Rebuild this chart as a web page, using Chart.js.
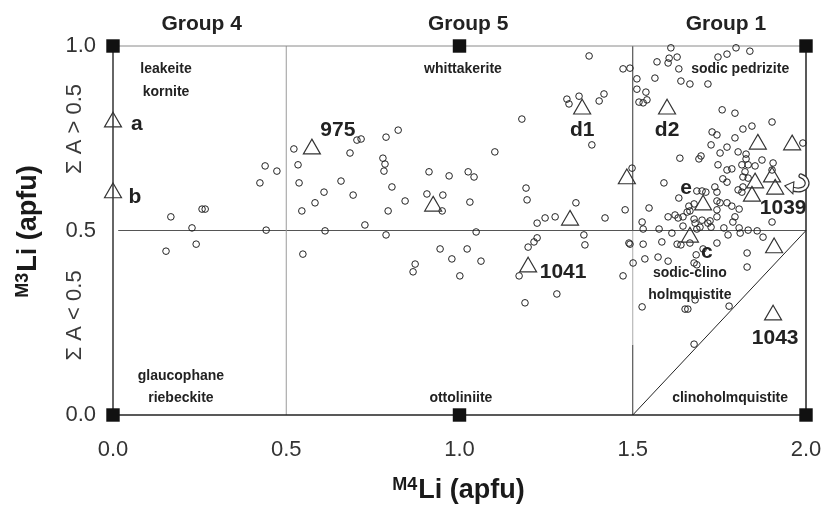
<!DOCTYPE html>
<html>
<head>
<meta charset="utf-8">
<script src="https://cdn.jsdelivr.net/npm/chart.js@4.4.1/dist/chart.umd.min.js"></script>
<style>
  html, body { margin: 0; padding: 0; background: #fff; }
  #wrap { width: 825px; height: 514px; }
</style>
</head>
<body>
<div id="wrap"><canvas id="liPlot" width="825" height="514"></canvas></div>
<script>
// Axis ticks
const xTicks = [0, 0.5, 1.0, 1.5, 2.0];
const yTicks = [0, 0.5, 1.0];

// Analyses (circles), split by field
const g4M4 = [0.167, 0.228, 0.257, 0.266, 0.153, 0.240, 0.439, 0.473, 0.424, 0.442];
const g4M3 = [0.537, 0.507, 0.558, 0.558, 0.444, 0.463, 0.675, 0.661, 0.629, 0.501];

const g5M4 = [0.522, 0.534, 0.537, 0.545, 0.583, 0.609, 0.612, 0.548, 0.658, 0.684, 0.704, 0.716, 0.693, 0.727,
  0.788, 0.823, 0.779, 0.785, 0.782, 0.805, 0.843, 0.794, 0.788, 0.912, 0.970, 1.025, 1.042, 1.102, 1.180, 1.310,
  1.316, 1.345, 1.403, 1.417, 1.374, 1.472, 1.492, 1.382, 0.906, 0.952, 0.950, 1.030, 1.048, 0.944, 1.022, 0.978,
  1.062, 0.872, 0.866, 1.001, 1.192, 1.195, 1.224, 1.247, 1.276, 1.336, 1.359, 1.362, 1.420, 1.478, 1.489, 1.224,
  1.215, 1.198, 1.172, 1.281, 1.189, 1.472, 1.498, 1.501, 1.492];
const g5M3 = [0.721, 0.678, 0.629, 0.553, 0.575, 0.604, 0.499, 0.436, 0.634, 0.710, 0.745, 0.748, 0.596, 0.515,
  0.753, 0.772, 0.696, 0.680, 0.661, 0.618, 0.580, 0.553, 0.488, 0.659, 0.648, 0.659, 0.645, 0.713, 0.802, 0.856,
  0.843, 0.864, 0.851, 0.870, 0.973, 0.938, 0.940, 0.732, 0.599, 0.596, 0.553, 0.577, 0.496, 0.450, 0.450, 0.423,
  0.417, 0.409, 0.388, 0.377, 0.615, 0.583, 0.520, 0.534, 0.537, 0.575, 0.488, 0.461, 0.534, 0.556, 0.466, 0.480,
  0.469, 0.455, 0.377, 0.328, 0.304, 0.377, 0.669, 0.412, 0.463];

const g1M4 = [1.512, 1.512, 1.518, 1.610, 1.570, 1.605, 1.628, 1.602, 1.633, 1.746, 1.772, 1.798, 1.838, 1.564,
  1.538, 1.639, 1.665, 1.717, 1.530, 1.541, 1.758, 1.795, 1.729, 1.743, 1.818, 1.844, 1.902, 1.795, 1.991, 1.726,
  1.772, 1.752, 1.636, 1.697, 1.691, 1.804, 1.827, 1.827, 1.746, 1.815, 1.833, 1.853, 1.873, 1.905, 1.772, 1.786,
  1.824, 1.902, 1.818, 1.833, 1.760, 1.772, 1.590, 1.818, 1.804, 1.815, 1.737, 1.743, 1.685, 1.700, 1.711, 1.633,
  1.677, 1.662, 1.743, 1.752, 1.772, 1.786, 1.807, 1.743, 1.657, 1.665, 1.622, 1.631, 1.602, 1.645, 1.547, 1.527,
  1.677, 1.700, 1.723, 1.743, 1.795, 1.902, 1.530, 1.576, 1.613, 1.645, 1.680, 1.685, 1.694, 1.717, 1.726, 1.763,
  1.775, 1.789, 1.807, 1.810, 1.833, 1.859, 1.876, 1.530, 1.584, 1.628, 1.639, 1.665, 1.703, 1.743, 1.683, 1.830,
  1.830, 1.535, 1.573, 1.602, 1.677, 1.685, 1.527, 1.651, 1.659, 1.778, 1.677, 1.680];
const g1M3 = [0.911, 0.883, 0.848, 0.995, 0.957, 0.967, 0.970, 0.954, 0.938, 0.970, 0.978, 0.995, 0.986, 0.913,
  0.875, 0.905, 0.897, 0.897, 0.846, 0.854, 0.827, 0.818, 0.767, 0.759, 0.775, 0.783, 0.794, 0.751, 0.737, 0.732,
  0.726, 0.710, 0.696, 0.702, 0.694, 0.713, 0.707, 0.694, 0.678, 0.678, 0.678, 0.675, 0.691, 0.683, 0.664, 0.667,
  0.659, 0.664, 0.645, 0.642, 0.640, 0.631, 0.629, 0.618, 0.610, 0.604, 0.618, 0.604, 0.607, 0.607, 0.604, 0.588,
  0.572, 0.566, 0.580, 0.575, 0.575, 0.566, 0.558, 0.556, 0.550, 0.553, 0.542, 0.534, 0.537, 0.537, 0.561, 0.523,
  0.531, 0.528, 0.526, 0.537, 0.537, 0.523, 0.504, 0.504, 0.493, 0.512, 0.520, 0.504, 0.509, 0.520, 0.509, 0.507,
  0.488, 0.523, 0.507, 0.493, 0.501, 0.499, 0.482, 0.463, 0.469, 0.463, 0.461, 0.466, 0.450, 0.466, 0.434, 0.439,
  0.401, 0.423, 0.428, 0.417, 0.412, 0.407, 0.293, 0.287, 0.287, 0.295, 0.192, 0.312];

// Reference samples (open triangles)
const refM4 = [0.0, 0.0, 0.574, 1.354, 1.599, 0.924, 1.319, 1.198, 1.483, 1.861, 1.960, 1.853, 1.844, 1.902, 1.911, 1.703, 1.665, 1.908, 1.905];
const refM3 = [0.794, 0.602, 0.721, 0.829, 0.829, 0.566, 0.528, 0.401, 0.640, 0.734, 0.732, 0.629, 0.593, 0.645, 0.612, 0.569, 0.482, 0.453, 0.271];

// End-member compositions (filled squares)
const endM4 = [0, 0, 1, 1, 2, 2];
const endM3 = [0, 1, 0, 1, 0, 1];

const FONT = '"Liberation Sans", Arial, Helvetica, sans-serif';

const toPts = (xs, ys) => xs.map((v, i) => ({ x: v, y: ys[i] }));

// field boundaries: [x1, y1, x2, y2, colour, width]
const boundaries = [
  [0, 0, 2, 0, '#222', 1.5],
  [0, 0, 0, 1, '#333', 1.5],
  [2, 0, 2, 1, '#222', 1.5],
  [0, 1, 2, 1, '#8a8a8a', 1],
  [0.5, 0, 0.5, 1, '#9a9a9a', 1],
  [1.5, 0.5, 1.5, 1, '#333', 1],
  [1.5, 0.19, 1.5, 0.5, '#aaa', 1],
  [1.5, 0, 1.5, 0.19, '#333', 1],
  [0.015, 0.5, 2, 0.5, '#555', 1.2],
  [1.5, 0, 2, 0.5, '#222', 1]
];

const lineSets = boundaries.map(b => ({
  data: [{ x: b[0], y: b[1] }, { x: b[2], y: b[3] }],
  showLine: true,
  borderColor: b[4],
  borderWidth: b[5],
  pointRadius: 0,
  clip: false,
  order: 5
}));

// text annotations in data coordinates
const fieldNames = [
  ['leakeite', 0.153, 0.938], ['kornite', 0.153, 0.875],
  ['whittakerite', 1.010, 0.938], ['sodic pedrizite', 1.810, 0.938],
  ['glaucophane', 0.196, 0.106], ['riebeckite', 0.196, 0.046],
  ['ottoliniite', 1.004, 0.046], ['clinoholmquistite', 1.781, 0.046],
  ['sodic-clino', 1.665, 0.385], ['holmquistite', 1.665, 0.325]
];
const sampleNames = [
  ['a', 0.069, 0.789], ['b', 0.063, 0.591], ['975', 0.649, 0.772],
  ['d1', 1.354, 0.772], ['d2', 1.599, 0.772], ['e', 1.654, 0.615],
  ['c', 1.714, 0.442], ['1039', 1.934, 0.561], ['1041', 1.299, 0.388],
  ['1043', 1.911, 0.209]
];
const groupNames = [['Group 4', 0.256], ['Group 5', 1.025], ['Group 1', 1.769]];

function supTitle(ctx, sup, main, cx, base) {
  ctx.font = 'bold 18px ' + FONT;
  const w1 = ctx.measureText(sup).width;
  ctx.font = 'bold 27px ' + FONT;
  const w2 = ctx.measureText(main).width;
  const x0 = cx - (w1 + 1 + w2) / 2;
  ctx.textAlign = 'left';
  ctx.textBaseline = 'alphabetic';
  ctx.font = 'bold 18px ' + FONT;
  ctx.fillText(sup, x0, base - 8);
  ctx.font = 'bold 27px ' + FONT;
  ctx.fillText(main, x0 + w1 + 1, base);
}

const overlay = {
  id: 'overlay',
  afterDraw(chart) {
    const { ctx, chartArea: area } = chart;
    const px = v => chart.scales.x.getPixelForValue(v);
    const py = v => chart.scales.y.getPixelForValue(v);
    ctx.save();
    ctx.fillStyle = '#222';

    // tick labels
    ctx.font = '22px ' + FONT;
    ctx.fillStyle = '#333';
    ctx.textAlign = 'center';
    ctx.textBaseline = 'middle';
    xTicks.forEach(v => ctx.fillText(v.toFixed(1), px(v), area.bottom + 35));
    ctx.textAlign = 'right';
    yTicks.forEach(v => ctx.fillText(v.toFixed(1), area.left - 17, py(v)));

    // group headers
    ctx.fillStyle = '#222';
    ctx.font = 'bold 21px ' + FONT;
    ctx.textAlign = 'center';
    groupNames.forEach(g => ctx.fillText(g[0], px(g[1]), area.top - 22));

    // field names
    ctx.font = 'bold 14px ' + FONT;
    fieldNames.forEach(f => ctx.fillText(f[0], px(f[1]), py(f[2])));

    // sample names
    ctx.font = 'bold 21px ' + FONT;
    sampleNames.forEach(s => ctx.fillText(s[0], px(s[1]), py(s[2])));

    // sum A side notes
    ctx.font = '22px ' + FONT;
    ctx.fillStyle = '#3a3a3a';
    [['\u03A3 A > 0.5', 0.775], ['\u03A3 A < 0.5', 0.27]].forEach(t => {
      ctx.save();
      ctx.translate(area.left - 38, py(t[1]));
      ctx.rotate(-Math.PI / 2);
      ctx.fillText(t[0], 0, 0);
      ctx.restore();
    });

    // axis titles
    ctx.fillStyle = '#1a1a1a';
    supTitle(ctx, 'M4', 'Li (apfu)', (area.left + area.right) / 2 - 1, area.bottom + 83);
    ctx.save();
    ctx.translate(area.left - 77, py(0.5) + 1);
    ctx.rotate(-Math.PI / 2);
    supTitle(ctx, 'M3', 'Li (apfu)', 0, 0);
    ctx.restore();

    // curved arrow pointing at sample 1039
    const hx = px(1.942), hy = py(0.621);
    ctx.lineCap = 'round';
    const path = () => {
      ctx.beginPath();
      ctx.moveTo(hx + 15, hy - 10);
      ctx.bezierCurveTo(hx + 26, hy - 6, hx + 22, hy + 8, hx + 6, hy + 3);
    };
    ctx.strokeStyle = '#333';
    ctx.lineWidth = 5;
    path(); ctx.stroke();
    ctx.strokeStyle = '#fff';
    ctx.lineWidth = 2.6;
    path(); ctx.stroke();
    ctx.beginPath();
    ctx.moveTo(hx - 1, hy);
    ctx.lineTo(hx + 8, hy - 4);
    ctx.lineTo(hx + 7, hy + 8);
    ctx.closePath();
    ctx.fillStyle = '#fff';
    ctx.fill();
    ctx.strokeStyle = '#333';
    ctx.lineWidth = 1.1;
    ctx.stroke();

    ctx.restore();
  }
};

new Chart(document.getElementById('liPlot'), {
  type: 'scatter',
  data: {
    datasets: [
      {
        data: toPts(endM4, endM3),
        pointStyle: 'rect',
        pointRadius: 9.5,
        backgroundColor: '#111',
        borderColor: '#111',
        borderWidth: 0,
        clip: false,
        order: 0
      },
      {
        data: toPts(refM4, refM3),
        pointStyle: 'triangle',
        pointRadius: 9.8,
        backgroundColor: 'rgba(255,255,255,0)',
        borderColor: '#333',
        borderWidth: 1.2,
        clip: false,
        order: 1
      },
      ...[[g4M4, g4M3], [g5M4, g5M3], [g1M4, g1M3]].map(g => ({
        data: toPts(g[0], g[1]),
        pointStyle: 'circle',
        pointRadius: 3.3,
        backgroundColor: 'rgba(255,255,255,0)',
        borderColor: '#222',
        borderWidth: 1,
        clip: false,
        order: 2
      })),
      ...lineSets
    ]
  },
  options: {
    responsive: false,
    animation: false,
    events: [],
    layout: { padding: { left: 113, right: 19, top: 46, bottom: 99 } },
    plugins: { legend: { display: false }, tooltip: { enabled: false } },
    scales: {
      x: { type: 'linear', min: 0, max: 2, display: false },
      y: { type: 'linear', min: 0, max: 1, display: false }
    }
  },
  plugins: [overlay]
});
</script>
</body>
</html>
